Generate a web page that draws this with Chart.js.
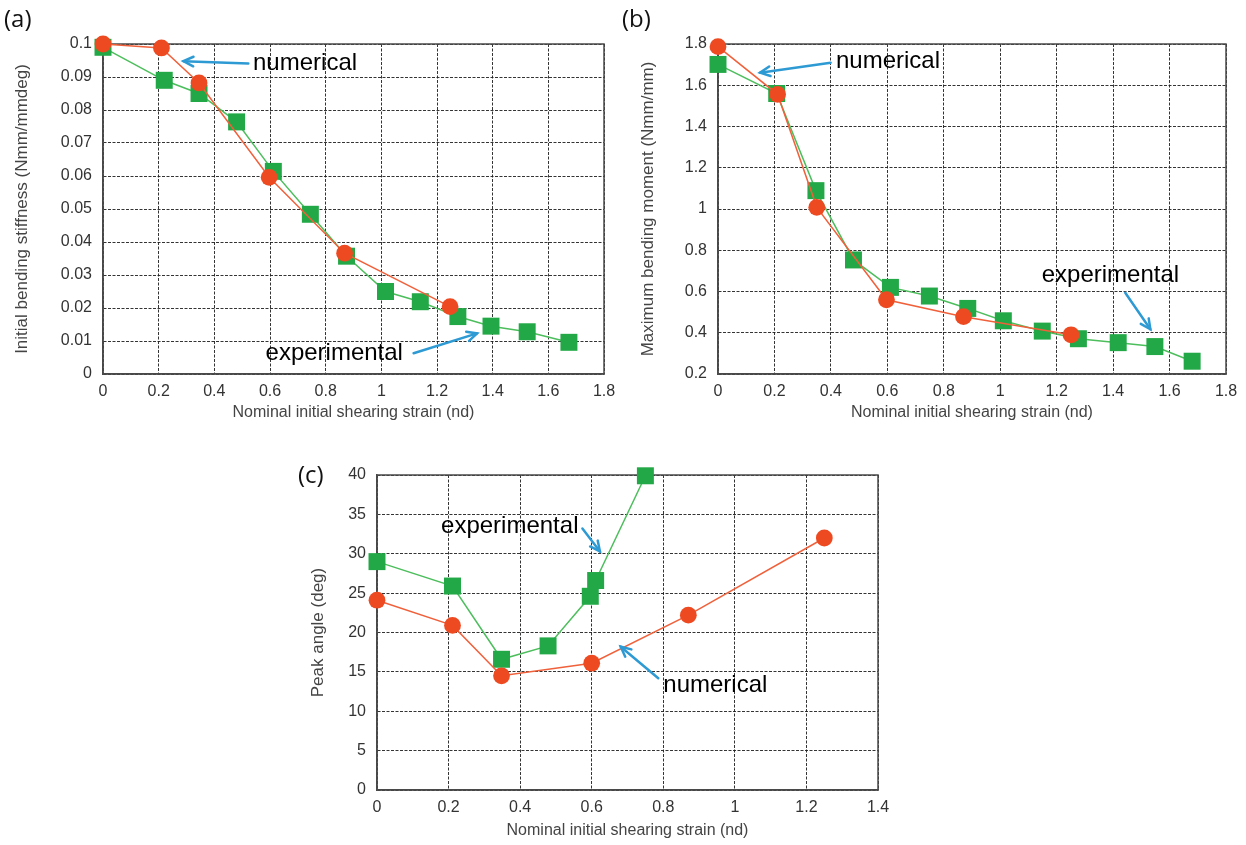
<!DOCTYPE html>
<html><head><meta charset="utf-8">
<script src="https://cdn.jsdelivr.net/npm/chart.js@4/dist/chart.umd.min.js"></script>
<style>
html,body{margin:0;padding:0;background:#fff}
body{width:1246px;height:845px;position:relative;overflow:hidden}
canvas{position:absolute;display:block}
.lab{position:absolute;font-family:"Open Sans","Noto Sans",sans-serif;font-size:24px;line-height:30px;color:#111}
</style></head><body>
<canvas id="ca" width="620" height="430" style="left:0;top:0;width:620px;height:430px"></canvas>
<canvas id="cb" width="626" height="430" style="left:620px;top:0;width:626px;height:430px"></canvas>
<canvas id="cc" width="610" height="405" style="left:290px;top:440px;width:610px;height:405px"></canvas>
<div class="lab" style="left:4px;top:3px">(a)</div>
<div class="lab" style="left:622px;top:3px">(b)</div>
<div class="lab" style="left:298px;top:459px">(c)</div>
<script>
// ---------- data ----------
const xTitle = 'Nominal initial shearing strain (nd)';

const numA_x = [0, 0.21, 0.345, 0.597, 0.868, 1.247];
const numA_y = [0.1, 0.0988, 0.0882, 0.0596, 0.0366, 0.0204];
const expA_x = [0, 0.22, 0.345, 0.48, 0.612, 0.745, 0.875, 1.015, 1.14, 1.275, 1.394, 1.524, 1.674];
const expA_y = [0.0990, 0.0890, 0.0850, 0.0764, 0.0614, 0.0484, 0.0357, 0.0250, 0.0219, 0.0174, 0.0145, 0.0128, 0.0096];

const numB_x = [0, 0.211, 0.35, 0.597, 0.870, 1.251];
const numB_y = [1.787, 1.556, 1.008, 0.560, 0.478, 0.390];
const expB_x = [0, 0.208, 0.347, 0.48, 0.611, 0.749, 0.885, 1.011, 1.149, 1.277, 1.418, 1.548, 1.68];
const expB_y = [1.701, 1.560, 1.089, 0.753, 0.620, 0.578, 0.518, 0.458, 0.408, 0.371, 0.352, 0.333, 0.262];

const numC_x = [0, 0.211, 0.348, 0.6, 0.870, 1.250];
const numC_y = [24.1, 20.9, 14.5, 16.1, 22.2, 32.0];
const expC_x = [0, 0.211, 0.348, 0.478, 0.596, 0.611, 0.750];
const expC_y = [29.0, 25.9, 16.6, 18.3, 24.6, 26.6, 39.9];

// ---------- styles ----------
const ORANGE = '#EE4A22', ORANGE_LINE = '#F0603A';
const GREEN = '#22A846', GREEN_LINE = '#4CBE5C';
const ARROW = '#2E9AD4';
const FONT = '"Liberation Sans", Arial, sans-serif';
const fmt = v => String(parseFloat(Number(v).toFixed(3)));
const zip = (xs, ys) => xs.map((x, i) => ({x, y: ys[i]}));

const framePlugin = {
  id: 'frame',
  beforeDatasetsDraw(chart) {
    const {ctx, chartArea: a} = chart;
    ctx.save();
    ctx.strokeStyle = '#4a4a4a';
    ctx.lineWidth = 1.5;
    ctx.strokeRect(a.left, a.top, a.right - a.left, a.bottom - a.top);
    ctx.restore();
  }
};

const notesPlugin = {
  id: 'notes',
  afterDatasetsDraw(chart, args, opts) {
    const {ctx} = chart;
    const xs = chart.scales.x, ys = chart.scales.y;
    (opts.items || []).forEach(n => {
      ctx.save();
      ctx.font = '24px ' + FONT;
      ctx.fillStyle = '#000';
      ctx.textAlign = 'left';
      ctx.textBaseline = 'middle';
      ctx.fillText(n.text, xs.getPixelForValue(n.tx), ys.getPixelForValue(n.ty));
      const x0 = xs.getPixelForValue(n.ax0), y0 = ys.getPixelForValue(n.ay0);
      const x1 = xs.getPixelForValue(n.ax1), y1 = ys.getPixelForValue(n.ay1);
      ctx.strokeStyle = ARROW;
      ctx.lineWidth = 2.5;
      ctx.lineCap = 'round';
      ctx.beginPath(); ctx.moveTo(x0, y0); ctx.lineTo(x1, y1); ctx.stroke();
      const ang = Math.atan2(y1 - y0, x1 - x0), L = 11, s = 0.45;
      ctx.beginPath();
      ctx.moveTo(x1 - L * Math.cos(ang - s), y1 - L * Math.sin(ang - s));
      ctx.lineTo(x1, y1);
      ctx.lineTo(x1 - L * Math.cos(ang + s), y1 - L * Math.sin(ang + s));
      ctx.stroke();
      ctx.restore();
    });
  }
};

function makeChart(id, c) {
  const gridOpts = {color: 'rgba(30,30,30,0.9)', lineWidth: 1, drawTicks: false};
  const borderOpts = {display: true, color: '#4a4a4a', width: 1.5, dash: [3, 1.5]};
  return new Chart(document.getElementById(id), {
    type: 'scatter',
    data: {datasets: [
      {label: 'numerical', data: zip(c.nx, c.ny), showLine: true, tension: 0,
       borderColor: ORANGE_LINE, borderWidth: 1.5, pointStyle: 'circle', pointRadius: 8.4,
       pointBackgroundColor: ORANGE, pointBorderColor: ORANGE, pointBorderWidth: 0, clip: false},
      {label: 'experimental', data: zip(c.ex, c.ey), showLine: true, tension: 0,
       borderColor: GREEN_LINE, borderWidth: 1.5, pointStyle: 'rect', pointRadius: 12,
       pointBackgroundColor: GREEN, pointBorderColor: GREEN, pointBorderWidth: 0, clip: false}
    ]},
    options: {
      responsive: false, animation: false, devicePixelRatio: 1,
      layout: {padding: {top: c.pt, right: c.pr, left: 0, bottom: 0}},
      plugins: {legend: {display: false}, tooltip: {enabled: false}, notes: {items: c.notes}},
      scales: {
        x: {type: 'linear', min: c.xmin, max: c.xmax,
            ticks: {stepSize: c.xstep, callback: fmt, color: '#333', font: {family: FONT, size: c.tf}, padding: c.xtkp, maxRotation: 0, autoSkip: false},
            grid: gridOpts, border: borderOpts,
            title: {display: true, text: xTitle, color: '#444', font: {family: FONT, size: 16}, padding: {top: 0, bottom: c.xtp}},
            afterFit(s) { s.height = c.xh; s.paddingLeft = s.paddingRight = s.paddingTop = s.paddingBottom = 0; }},
        y: {type: 'linear', min: c.ymin, max: c.ymax,
            ticks: {stepSize: c.ystep, callback: fmt, color: '#333', font: {family: FONT, size: c.tf}, padding: 11, autoSkip: false},
            grid: gridOpts, border: borderOpts,
            title: {display: true, text: c.yTitle, color: '#444', font: {family: FONT, size: c.ytf}, padding: {top: c.ytp, bottom: 0}},
            afterFit(s) { s.width = c.yw; s.paddingLeft = s.paddingRight = s.paddingTop = s.paddingBottom = 0; }}
      }
    },
    plugins: [framePlugin, notesPlugin]
  });
}

makeChart('ca', {
  nx: numA_x, ny: numA_y, ex: expA_x, ey: expA_y,
  xmin: 0, xmax: 1.8, xstep: 0.2, ymin: 0, ymax: 0.1, ystep: 0.01,
  yTitle: 'Initial bending stiffness (Nmm/mmdeg)', ytf: 17, ytp: 12, tf: 16,
  pt: 44, pr: 16, yw: 103, xh: 56, xtp: 8, xtkp: 8,
  notes: [
    {text: 'numerical', tx: 0.539, ty: 0.0941, ax0: 0.522, ay0: 0.0941, ax1: 0.289, ay1: 0.0948},
    {text: 'experimental', tx: 0.584, ty: 0.0061, ax0: 1.116, ay0: 0.0063, ax1: 1.344, ay1: 0.0123}
  ]
});

makeChart('cb', {
  nx: numB_x, ny: numB_y, ex: expB_x, ey: expB_y,
  xmin: 0, xmax: 1.8, xstep: 0.2, ymin: 0.2, ymax: 1.8, ystep: 0.2,
  yTitle: 'Maximum bending moment (Nmm/mm)', ytf: 17, ytp: 18, tf: 16,
  pt: 44, pr: 20, yw: 98, xh: 56, xtp: 8, xtkp: 8,
  notes: [
    {text: 'numerical', tx: 0.418, ty: 1.714, ax0: 0.399, ay0: 1.709, ax1: 0.149, ay1: 1.661},
    {text: 'experimental', tx: 1.147, ty: 0.678, ax0: 1.443, ay0: 0.594, ax1: 1.532, ay1: 0.417}
  ]
});

makeChart('cc', {
  nx: numC_x, ny: numC_y, ex: expC_x, ey: expC_y,
  xmin: 0, xmax: 1.4, xstep: 0.2, ymin: 0, ymax: 40, ystep: 5,
  yTitle: 'Peak angle (deg)', ytf: 17, ytp: 18, tf: 16,
  pt: 35, pr: 22, yw: 87, xh: 55, xtp: 5, xtkp: 8,
  notes: [
    {text: 'experimental', tx: 0.179, ty: 33.5, ax0: 0.574, ay0: 33.2, ax1: 0.623, ay1: 30.3},
    {text: 'numerical', tx: 0.8, ty: 13.3, ax0: 0.786, ay0: 14.2, ax1: 0.681, ay1: 18.2}
  ]
});
</script>
</body></html>
